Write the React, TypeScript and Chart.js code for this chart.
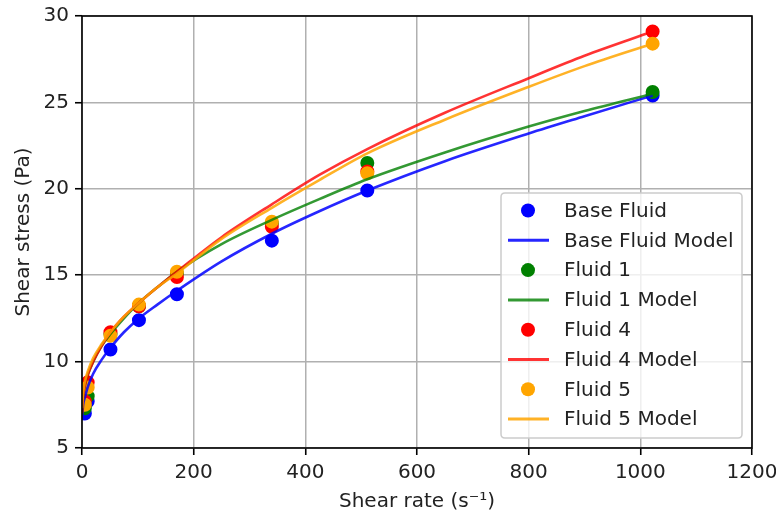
import React, { useEffect, useRef } from "react";
import { Chart, registerables } from "chart.js";

Chart.register(...registerables);

// Measured shear rates (s^-1)
const rates = [5.1, 10.2, 51, 102, 170, 340, 511, 1022];
// Measured shear stress (Pa)
const baseFluid = [7.0, 7.7, 10.7, 12.4, 13.9, 17.0, 19.9, 25.4];
const fluid1 = [7.3, 8.0, 11.6, 13.2, 15.1, 18.0, 21.5, 25.6];
const fluid4 = [7.7, 8.8, 11.7, 13.2, 14.9, 17.8, 21.0, 29.1];
const fluid5 = [7.5, 8.5, 11.5, 13.3, 15.2, 18.1, 20.9, 28.4];

// Model curves
const modelRates = [0, 2, 5, 10, 20, 35, 51, 75, 102, 135, 170, 250, 340, 425, 511, 650, 800, 900, 1022];
const baseModel = [6.6, 7.5, 7.9, 8.5, 9.3, 10.1, 10.8, 11.7, 12.5, 13.3, 14.1, 15.8, 17.4, 18.7, 19.9, 21.6, 23.2, 24.2, 25.4];
const fluid1Model = [7.0, 8.0, 8.6, 9.2, 10.0, 10.9, 11.6, 12.5, 13.4, 14.3, 15.2, 16.8, 18.2, 19.4, 20.55, 22.1, 23.6, 24.5, 25.5];
const fluid4Model = [7.0, 8.0, 8.6, 9.2, 10.0, 10.9, 11.7, 12.6, 13.4, 14.3, 15.2, 17.2, 19.1, 20.8, 22.3, 24.4, 26.4, 27.7, 29.1];
const fluid5Model = [7.3, 8.2, 8.8, 9.4, 10.2, 11.0, 11.7, 12.6, 13.4, 14.3, 15.1, 17.1, 18.9, 20.5, 22.05, 24.0, 25.9, 27.1, 28.4];

const xTicks = [0, 200, 400, 600, 800, 1000, 1200];
const yTicks = [5, 10, 15, 20, 25, 30];

const seriesLabels = ["Base Fluid", "Fluid 1", "Fluid 4", "Fluid 5"];
const seriesColors = ["#0000ff", "#008000", "#ff0000", "#ffa500"];
const lineColors = ["rgba(0,0,255,0.85)", "rgba(0,128,0,0.8)", "rgba(255,0,0,0.8)", "rgba(255,165,0,0.85)"];

const FONT = "'DejaVu Sans', sans-serif";

const toPts = (xs: number[], ys: number[]) => xs.map((x, i) => ({ x, y: ys[i] }));

const framePlugin = {
  id: "frame",
  afterDatasetsDraw(chart: any) {
    const { ctx, chartArea: a } = chart;
    ctx.save();
    ctx.strokeStyle = "#000";
    ctx.lineWidth = 1.6;
    ctx.strokeRect(a.left, a.top, a.right - a.left, a.bottom - a.top);
    ctx.restore();
  },
};

const legendPlugin = {
  id: "innerLegend",
  afterDraw(chart: any) {
    const { ctx, chartArea: a } = chart;
    const w = 241;
    const h = 245;
    const right = a.right - 10;
    const bottom = a.bottom - 10;
    const left = right - w;
    const top = bottom - h;
    ctx.save();
    ctx.beginPath();
    const r = 4;
    ctx.moveTo(left + r, top);
    ctx.lineTo(right - r, top);
    ctx.quadraticCurveTo(right, top, right, top + r);
    ctx.lineTo(right, bottom - r);
    ctx.quadraticCurveTo(right, bottom, right - r, bottom);
    ctx.lineTo(left + r, bottom);
    ctx.quadraticCurveTo(left, bottom, left, bottom - r);
    ctx.lineTo(left, top + r);
    ctx.quadraticCurveTo(left, top, left + r, top);
    ctx.closePath();
    ctx.fillStyle = "rgba(255,255,255,0.8)";
    ctx.fill();
    ctx.strokeStyle = "#cccccc";
    ctx.lineWidth = 1.5;
    ctx.stroke();

    const ds = chart.data.datasets;
    ctx.font = `20px ${FONT}`;
    ctx.textBaseline = "middle";
    ctx.textAlign = "left";
    ds.forEach((d: any, i: number) => {
      const cy = top + 17.5 + i * 29.8;
      if (d.legendKind === "point") {
        ctx.beginPath();
        ctx.arc(left + 27, cy, 7, 0, Math.PI * 2);
        ctx.fillStyle = d.backgroundColor;
        ctx.fill();
      } else {
        ctx.beginPath();
        ctx.moveTo(left + 7, cy);
        ctx.lineTo(left + 48, cy);
        ctx.strokeStyle = d.borderColor;
        ctx.lineWidth = 3;
        ctx.stroke();
      }
      ctx.fillStyle = "#222";
      ctx.fillText(d.label, left + 63, cy + 1);
    });
    ctx.restore();
  },
};

export default function App() {
  const ref = useRef<HTMLCanvasElement | null>(null);

  useEffect(() => {
    document.body.style.margin = "0";
    if (!ref.current) return;
    const measured = [baseFluid, fluid1, fluid4, fluid5];
    const models = [baseModel, fluid1Model, fluid4Model, fluid5Model];
    const datasets: any[] = [];
    seriesLabels.forEach((lab, i) => {
      datasets.push({
        label: lab,
        legendKind: "point",
        data: toPts(rates, measured[i]),
        showLine: false,
        pointRadius: 6,
        pointBorderWidth: 2,
        backgroundColor: seriesColors[i],
        borderColor: seriesColors[i],
        pointBackgroundColor: seriesColors[i],
        pointBorderColor: seriesColors[i],
        order: 8 - i,
        clip: 0,
      });
      datasets.push({
        label: lab + " Model",
        legendKind: "line",
        data: toPts(modelRates, models[i]),
        showLine: true,
        pointRadius: 0,
        borderWidth: 2.6,
        borderColor: lineColors[i],
        backgroundColor: lineColors[i],
        cubicInterpolationMode: "monotone",
        fill: false,
        order: 4 - i,
        clip: 0,
      });
    });

    const chart = new Chart(ref.current, {
      type: "scatter",
      data: { datasets },
      options: {
        animation: false,
        responsive: false,
        devicePixelRatio: 1,
        layout: { padding: { top: 16, right: 24, left: 0, bottom: 0 } },
        plugins: { legend: { display: false }, tooltip: { enabled: false } },
        scales: {
          x: {
            type: "linear",
            min: 0,
            max: 1200,
            afterBuildTicks: (s: any) => {
              s.ticks = xTicks.map((v) => ({ value: v }));
            },
            afterFit: (s: any) => {
              s.height = 70;
              s.paddingLeft = 0;
              s.paddingRight = 0;
            },
            grid: {
              color: "#b0b0b0",
              lineWidth: 1.5,
              tickColor: "#000",
              tickLength: 7,
              tickWidth: 1.6,
            },
            border: { display: false },
            ticks: {
              autoSkip: false,
              maxRotation: 0,
              padding: 6,
              color: "#222",
              font: { family: FONT, size: 20 },
              callback: (v: any) => String(v),
            },
            title: {
              display: true,
              text: "Shear rate (s\u207B\u00B9)",
              color: "#222",
              font: { family: FONT, size: 20 },
              padding: { top: 0, bottom: 4 },
            },
          },
          y: {
            type: "linear",
            min: 5,
            max: 30,
            afterBuildTicks: (s: any) => {
              s.ticks = yTicks.map((v) => ({ value: v }));
            },
            afterFit: (s: any) => {
              s.width = 82;
              s.paddingTop = 0;
              s.paddingBottom = 0;
            },
            grid: {
              color: "#b0b0b0",
              lineWidth: 1.5,
              tickColor: "#000",
              tickLength: 7,
              tickWidth: 1.6,
            },
            border: { display: false },
            ticks: {
              autoSkip: false,
              padding: 6,
              color: "#222",
              font: { family: FONT, size: 20 },
              callback: (v: any) => String(v),
            },
            title: {
              display: true,
              text: "Shear stress (Pa)",
              color: "#222",
              font: { family: FONT, size: 20 },
              padding: { top: 12, bottom: 0 },
            },
          },
        },
      },
      plugins: [framePlugin, legendPlugin],
    } as any);
    return () => chart.destroy();
  }, []);

  return (
    <div style={{ width: 776, height: 518, background: "#fff" }}>
      <canvas ref={ref} width={776} height={518} style={{ display: "block", width: 776, height: 518 }} />
    </div>
  );
}
